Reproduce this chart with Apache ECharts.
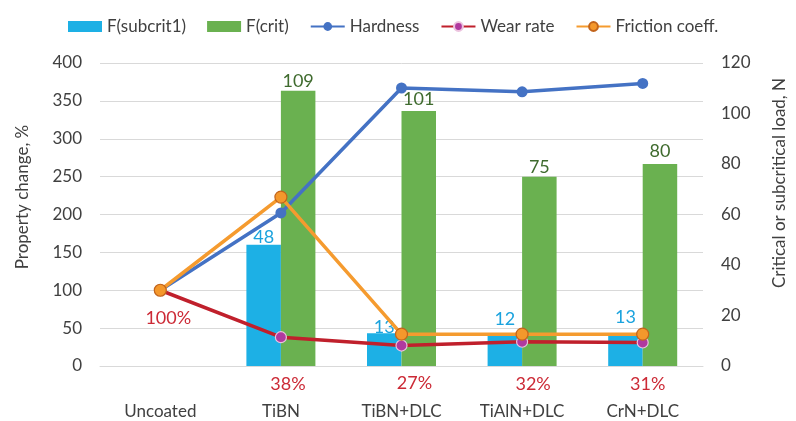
<!DOCTYPE html>
<html>
<head>
<meta charset="utf-8">
<script src="https://cdn.jsdelivr.net/npm/echarts@6/dist/echarts.min.js"></script>
<style>
  html, body { margin: 0; padding: 0; background: #ffffff; }
  #chart { width: 796px; height: 421px; }
</style>
</head>
<body>
<div id="chart"></div>
<script>
// Coatings compared against the uncoated sample
const categories = ['Uncoated', 'TiBN', 'TiBN+DLC', 'TiAlN+DLC', 'CrN+DLC'];

// Scratch loads, N (right axis)
const subcritLoad = [null, 48, 13, 12, 13];
const critLoad = [null, 109, 101, 75, 80];

// Relative property change, % of uncoated (left axis)
const hardness = [100, 202, 367, 362, 373];
const wearRate = [100, 38, 27, 32, 31];
const friction = [100, 223, 42, 42, 42];

const FONT = 'Lato, "Open Sans", sans-serif';
const TEXT = '#404040';
const GRID = '#d9d9d9';

// Hand-placed wear-rate labels (offsets from each point, px)
const wearLabelOffsets = [[8, 28], [7, 47], [13, 38], [11, 42], [5, 42]];
// Distance of the load labels above their bars, px
const subcritLabelGap = [0, -1, -3, 8, 7];
const critLabelGap = [0, 1, 3, 0, 4];

const chart = echarts.init(document.getElementById('chart'), null, { renderer: 'canvas' });

const barLabel = (color) => ({
  show: true, position: 'top', color: color, fontFamily: FONT, fontSize: 18
});

const option = {
  backgroundColor: '#ffffff',
  animation: false,
  textStyle: { fontFamily: FONT, color: TEXT },
  grid: { left: 100, right: 85, top: 63, bottom: 55 },
  legend: {
    top: 13, left: 63, itemGap: 21, itemWidth: 34, itemHeight: 11,
    textStyle: { fontFamily: FONT, fontSize: 17, color: TEXT },
    data: [
      { name: 'F(subcrit1)', icon: 'rect' },
      { name: 'F(crit)', icon: 'rect' },
      'Hardness', 'Wear rate', 'Friction coeff.'
    ]
  },
  xAxis: {
    type: 'category',
    data: categories,
    axisLine: { lineStyle: { color: GRID, width: 1 } },
    axisTick: { show: false },
    axisLabel: { color: TEXT, fontFamily: FONT, fontSize: 17, margin: 37 }
  },
  yAxis: [
    {
      type: 'value', min: 0, max: 400, interval: 50,
      name: 'Property change, %', nameLocation: 'middle', nameRotate: 90, nameGap: 69,
      nameTextStyle: { fontFamily: FONT, fontSize: 17, color: TEXT, padding: [0, 0, 0, 35] },
      axisLine: { show: false }, axisTick: { show: false },
      axisLabel: { color: TEXT, fontFamily: FONT, fontSize: 17, margin: 18 },
      splitLine: { lineStyle: { color: GRID, width: 1 } }
    },
    {
      type: 'value', min: 0, max: 120, interval: 20, position: 'right',
      name: 'Critical or subcritical load, N', nameLocation: 'middle', nameRotate: 90, nameGap: 68,
      nameTextStyle: { fontFamily: FONT, fontSize: 17, color: TEXT, padding: [0, 0, 0, 63] },
      axisLine: { show: false }, axisTick: { show: false },
      axisLabel: { color: TEXT, fontFamily: FONT, fontSize: 17, margin: 18 },
      splitLine: { show: false }
    }
  ],
  series: [
    {
      name: 'F(subcrit1)', type: 'bar', yAxisIndex: 1, barWidth: 34.5, barGap: '0%',
      itemStyle: { color: '#1db0e5' },
      data: subcritLoad.map((v, i) => ({
        value: v, label: Object.assign(barLabel('#1ba3de'), { distance: subcritLabelGap[i] })
      }))
    },
    {
      name: 'F(crit)', type: 'bar', yAxisIndex: 1, barWidth: 34.5, barGap: '0%',
      itemStyle: { color: '#6ab150' },
      data: critLoad.map((v, i) => ({
        value: v, label: Object.assign(barLabel('#3f6b2e'), { distance: critLabelGap[i] })
      }))
    },
    {
      name: 'Hardness', type: 'line', yAxisIndex: 0, data: hardness,
      symbol: 'circle', symbolSize: 11,
      lineStyle: { color: '#4472c4', width: 3.5 },
      itemStyle: { color: '#4472c4' }, z: 3
    },
    {
      name: 'Wear rate', type: 'line', yAxisIndex: 0,
      symbol: 'circle', symbolSize: 11,
      lineStyle: { color: '#c0202c', width: 3.5 },
      itemStyle: { color: '#b0399f', borderColor: '#ecc3df', borderWidth: 1.2 }, z: 4,
      data: wearRate.map((v, i) => ({
        value: v,
        label: {
          show: true, position: 'inside', offset: wearLabelOffsets[i],
          formatter: '{c}%', color: '#cc2a36', fontFamily: FONT, fontSize: 18
        }
      }))
    },
    {
      name: 'Friction coeff.', type: 'line', yAxisIndex: 0, data: friction,
      symbol: 'circle', symbolSize: 12,
      lineStyle: { color: '#f59b2f', width: 3.5 },
      itemStyle: { color: '#f4982c', borderColor: '#c2641b', borderWidth: 1.2 }, z: 5
    }
  ]
};

chart.setOption(option);
</script>
</body>
</html>
